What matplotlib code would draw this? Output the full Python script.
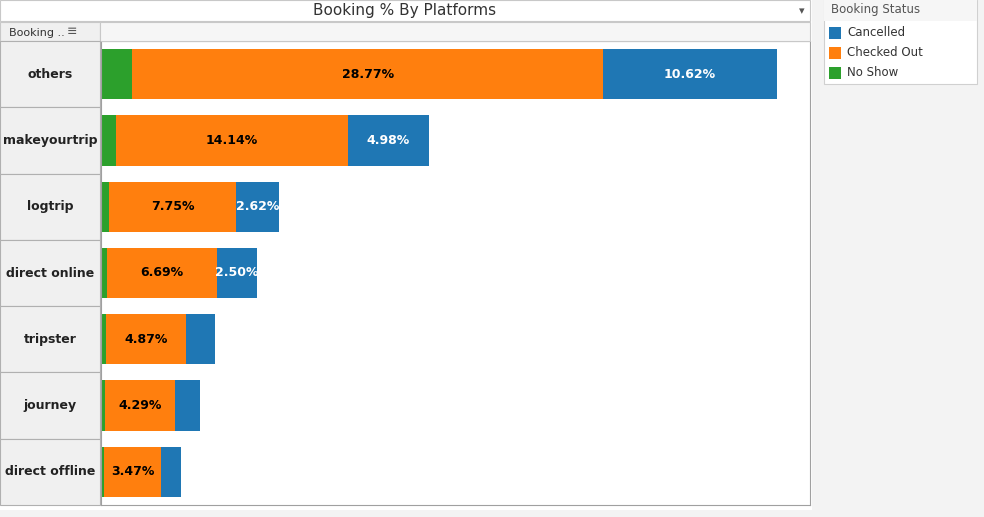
import matplotlib.pyplot as plt
from matplotlib.patches import Rectangle

platforms = ['others', 'makeyourtrip', 'logtrip', 'direct online', 'tripster', 'journey', 'direct offline']
no_show = [1.90, 0.92, 0.50, 0.37, 0.30, 0.25, 0.20]
checked_out = [28.77, 14.14, 7.75, 6.69, 4.87, 4.29, 3.47]
cancelled = [10.62, 4.98, 2.62, 2.50, 1.77, 1.53, 1.22]

W, H = 984, 517
BLUE, ORANGE, GREEN = '#1f77b4', '#ff7f0e', '#2ca02c'


def fx(px):
    return px / W


def fy(py):
    return 1 - py / H


def main():
    fig = plt.figure(figsize=(9.84, 5.17), dpi=100)
    fig.patch.set_facecolor('#f3f3f3')
    # white sheet area
    fig.add_artist(Rectangle((0, fy(510)), fx(812), fy(0) - fy(510), transform=fig.transFigure,
                             facecolor='white', edgecolor='none', zorder=0))

    # title bar
    fig.add_artist(Rectangle((0, fy(21)), fx(810), fy(0) - fy(21), transform=fig.transFigure,
                             facecolor='white', edgecolor='#c8c8c8', lw=0.8))
    fig.text(fx(405), fy(11), 'Booking % By Platforms', ha='center', va='center', fontsize=11, color='#333333')
    fig.text(fx(802), fy(11), '\u25be', ha='center', va='center', fontsize=8, color='#555555')
    # row header label
    fig.add_artist(Rectangle((0, fy(41)), fx(100), fy(22) - fy(41), transform=fig.transFigure,
                             facecolor='#f0f0f0', edgecolor='#c8c8c8', lw=0.8))
    fig.text(fx(9), fy(33), 'Booking ..', ha='left', va='center', fontsize=8, color='#333333')
    fig.text(fx(72), fy(32), '\u2261', ha='center', va='center', fontsize=9, color='#555555')
    fig.add_artist(Rectangle((fx(100), fy(41)), fx(710), fy(22) - fy(41), transform=fig.transFigure,
                             facecolor='#f6f6f6', edgecolor='#c8c8c8', lw=0.8))

    # row header cells
    top, bottom = 41, 505
    rh = (bottom - top) / len(platforms)
    for i, name in enumerate(platforms):
        y0 = top + i * rh
        fig.add_artist(Rectangle((0, fy(y0 + rh)), fx(100), rh / H, transform=fig.transFigure,
                                 facecolor='#f0f0f0', edgecolor='#b0b0b0', lw=0.8))
        fig.text(fx(50), fy(y0 + rh / 2), name, ha='center', va='center', fontsize=9,
                 fontweight='bold', color='#222222')

    ax = fig.add_axes([fx(101), fy(bottom), fx(709), (bottom - top) / H])
    y = range(len(platforms))
    ax.barh(y, no_show, height=0.76, color=GREEN)
    ax.barh(y, checked_out, left=no_show, height=0.76, color=ORANGE)
    left2 = [a + b for a, b in zip(no_show, checked_out)]
    ax.barh(y, cancelled, left=left2, height=0.76, color=BLUE)
    for i in y:
        ax.text(no_show[i] + checked_out[i] / 2, i, f'{checked_out[i]:.2f}%', ha='center', va='center',
                fontsize=9, fontweight='bold', color='black')
        if cancelled[i] >= 2.4:
            ax.text(left2[i] + cancelled[i] / 2, i, f'{cancelled[i]:.2f}%', ha='center', va='center',
                    fontsize=9, fontweight='bold', color='white')
    ax.set_xlim(0, 709 / 16.37)
    ax.set_ylim(len(platforms) - 0.5, -0.5)
    ax.set_xticks([])
    ax.set_yticks([])
    for s in ax.spines.values():
        s.set_color('#a0a0a0')
        s.set_linewidth(0.8)

    # legend panel
    fig.add_artist(Rectangle((fx(824), fy(84)), fx(153), 84 / H, transform=fig.transFigure,
                             facecolor='white', edgecolor='#d0d0d0', lw=0.8))
    fig.add_artist(Rectangle((fx(824), fy(21)), fx(153), 21 / H, transform=fig.transFigure,
                             facecolor='#f6f6f6', edgecolor='none'))
    fig.text(fx(831), fy(9), 'Booking Status', ha='left', va='center', fontsize=8.5, color='#555555')
    for j, (lab, c) in enumerate([('Cancelled', BLUE), ('Checked Out', ORANGE), ('No Show', GREEN)]):
        yc = 33 + j * 20
        fig.add_artist(Rectangle((fx(829), fy(yc + 6)), fx(12), 12 / H, transform=fig.transFigure,
                                 facecolor=c, edgecolor='none'))
        fig.text(fx(847), fy(yc), lab, ha='left', va='center', fontsize=8.5, color='#333333')

    fig.savefig('out.png', dpi=100, facecolor=fig.get_facecolor())


if __name__ == '__main__':
    main()
